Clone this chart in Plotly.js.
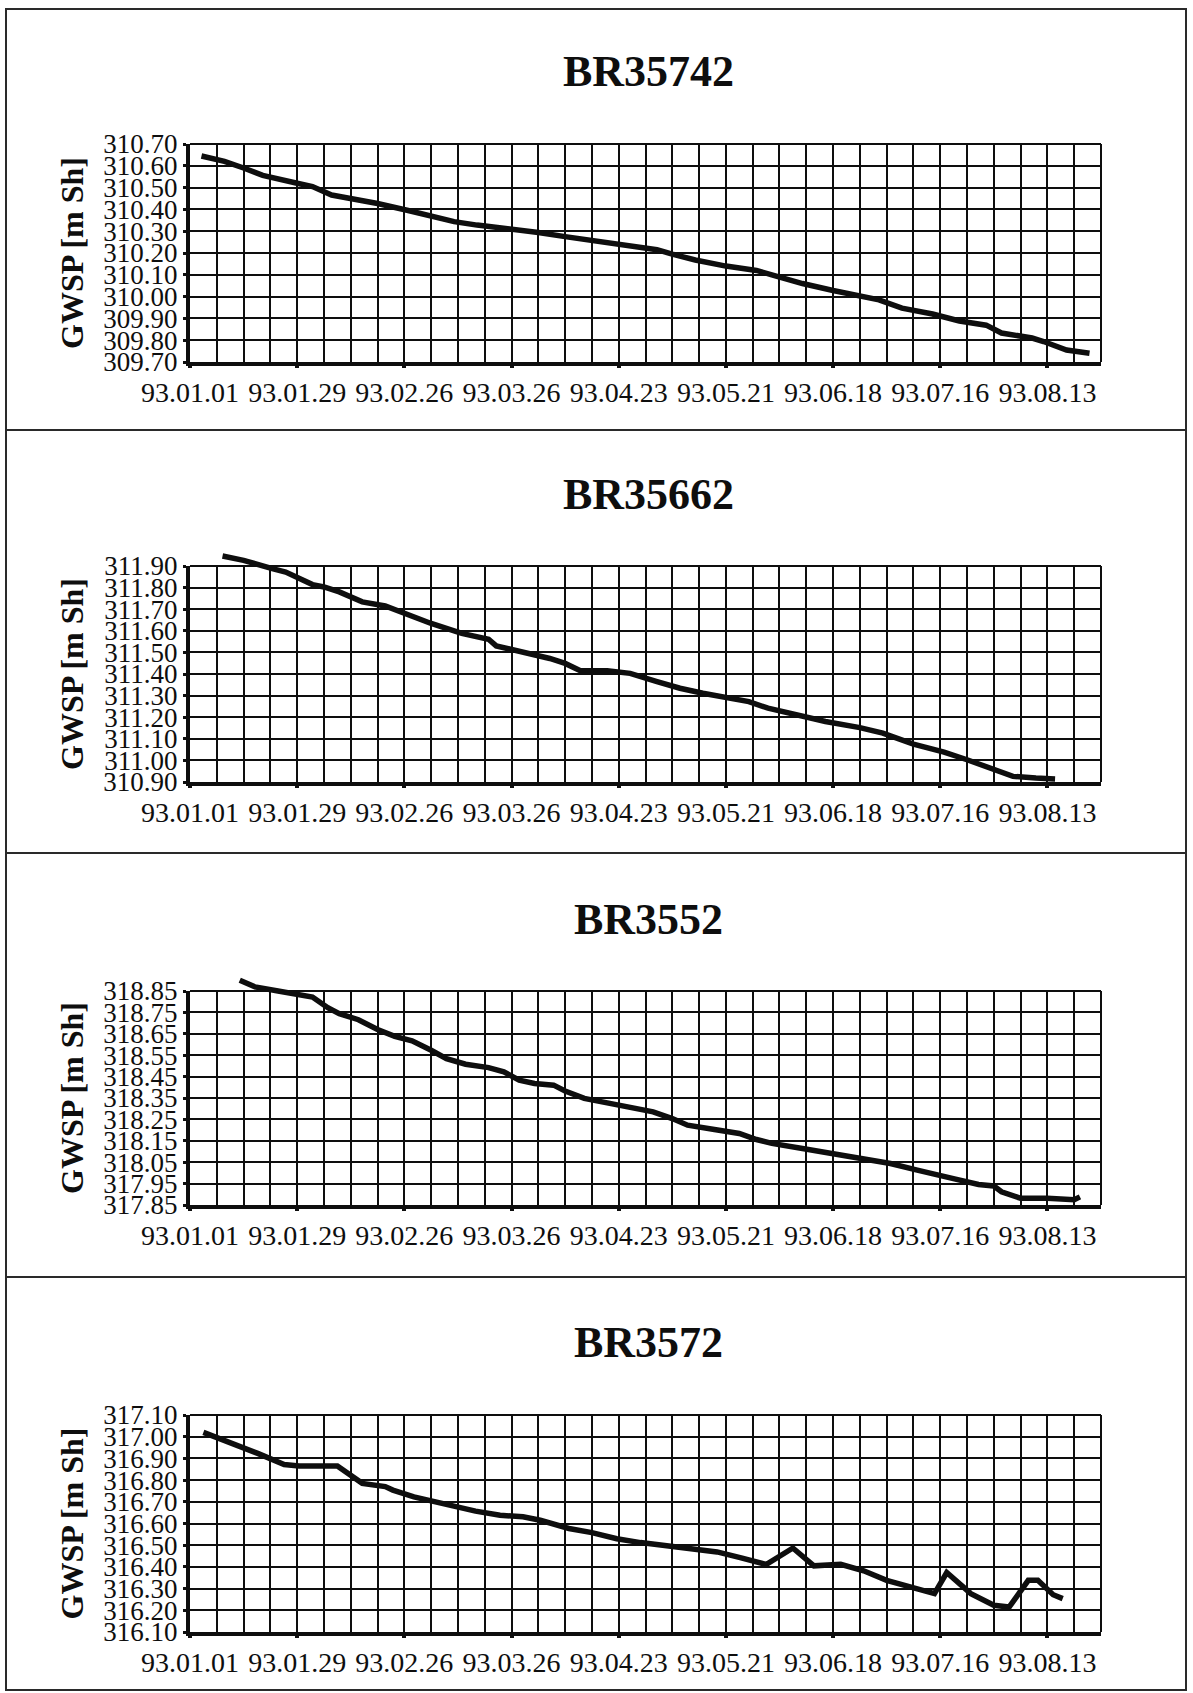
<!DOCTYPE html>
<html>
<head>
<meta charset="utf-8">
<script src="https://cdn.plot.ly/plotly-3.0.1.min.js"></script>
<style>
  html, body { margin: 0; padding: 0; background: #fff; }
  #chart { width: 1193px; height: 1693px; }
</style>
</head>
<body>
<div id="chart"></div>
<script>
// Groundwater level (GWSP, m above sea level) at four wells, Jan–Aug 1993.
// x values are days counted from 93.01.01.

const tickDays = [0, 28, 56, 84, 112, 140, 168, 196, 224];
const tickLabels = ['93.01.01', '93.01.29', '93.02.26', '93.03.26', '93.04.23',
                    '93.05.21', '93.06.18', '93.07.16', '93.08.13'];

const wellNames = ['BR35742', 'BR35662', 'BR3552', 'BR3572'];
const yRanges = [[309.70, 310.70], [310.90, 311.90], [317.85, 318.85], [316.10, 317.10]];

const br35742Days  = [3, 9, 14, 19, 28, 32, 37, 42, 49, 57, 63, 69, 75, 85, 91, 98, 106, 112, 122, 126,
                      132, 140, 148, 152, 160, 168, 174, 180, 186, 194, 201, 208, 212, 220, 223, 229, 235];
const br35742Level = [310.645, 310.62, 310.59, 310.556, 310.52, 310.505, 310.466, 310.45, 310.427, 310.395,
                      310.37, 310.344, 310.328, 310.31, 310.294, 310.275, 310.255, 310.245, 310.215, 310.195,
                      310.168, 310.14, 310.12, 310.10, 310.06, 310.028, 310.005, 309.985, 309.947, 309.92,
                      309.888, 309.869, 309.833, 309.81, 309.794, 309.755, 309.74];

const br35662Days  = [8.5, 14, 21.5, 25, 32, 35, 39, 45, 51, 57, 63, 71, 78, 80, 86, 94, 98, 102, 109, 115,
                      122, 128, 134, 141, 146, 151, 158, 166, 175, 181, 189, 197, 203, 209, 215, 221, 226];
const br35662Level = [311.946, 311.926, 311.888, 311.872, 311.814, 311.803, 311.78, 311.734, 311.715, 311.672,
                      311.634, 311.588, 311.561, 311.53, 311.506, 311.472, 311.449, 311.415, 311.415, 311.403,
                      311.365, 311.334, 311.311, 311.29, 311.272, 311.242, 311.211, 311.18, 311.152, 311.126,
                      311.075, 311.038, 311.003, 310.962, 310.926, 310.918, 310.914];

const br3552Days  = [13, 17, 23, 29, 32, 36, 39, 44, 49, 53.5, 58, 63, 67, 72, 78, 82, 86, 90, 95, 98,
                     103, 109, 115, 121, 126, 130, 137, 143.5, 148, 152, 160, 167, 175, 183, 190, 195, 200,
                     206, 210, 212, 217, 224, 229, 231, 232.5];
const br3552Level = [318.90, 318.869, 318.85, 318.834, 318.822, 318.772, 318.744, 318.716, 318.67, 318.638,
                     318.617, 318.573, 318.534, 318.508, 318.492, 318.472, 318.433, 318.418, 318.41, 318.383,
                     318.348, 318.327, 318.306, 318.285, 318.254, 318.223, 318.203, 318.184, 318.156, 318.138,
                     318.114, 318.091, 318.068, 318.044, 318.013, 317.995, 317.971, 317.946, 317.939, 317.912,
                     317.881, 317.881, 317.881, 317.875, 317.888];

const br3572Days  = [3.5, 10, 17.7, 24.6, 28.5, 38.5, 41.5, 45, 51, 53, 58.5, 64, 70, 74.6, 81, 87, 91.5,
                     99, 105, 111.5, 117.7, 125, 131.5, 137.7, 144, 150.5, 157.5, 163, 170, 176, 182, 187, 194.5,
                     197.7, 204, 210, 214, 219, 221.5, 225.5, 228];
const br3572Level = [317.02, 316.977, 316.923, 316.872, 316.865, 316.865, 316.83, 316.785, 316.77, 316.754,
                     316.723, 316.70, 316.677, 316.657, 316.638, 316.631, 316.615, 316.577, 316.558, 316.53,
                     316.512, 316.497, 316.485, 316.469, 316.442, 316.411, 316.487, 316.405, 316.412, 316.382,
                     316.338, 316.315, 316.277, 316.374, 316.277, 316.223, 316.215, 316.338, 316.338, 316.272,
                     316.254];

const seriesDays  = [br35742Days, br35662Days, br3552Days, br3572Days];
const seriesLevel = [br35742Level, br35662Level, br3552Level, br3572Level];

// ---- page geometry (pixels) ----
const W = 1193, H = 1693;
const plotLeft = 190, plotRight = 1101;
const plotTops = [144, 566, 991, 1415];
const plotBottoms = [362, 782, 1205, 1632];
const titleY = [72, 495, 919, 1342];
const panelLines = [9, 430, 853, 1277, 1690];
const frameLeft = 6, frameRight = 1186;
const headroom = 40;   // the curves may run a little above the top gridline
const xRange = [0, 238];

const ink = '#0e0e0e';
const serif = '"Liberation Serif", "Times New Roman", serif';
const px = v => v / W;
const py = v => 1 - v / H;

const traces = [];
const layout = {
  width: W, height: H,
  margin: {l: 0, r: 0, t: 0, b: 0},
  paper_bgcolor: '#ffffff',
  plot_bgcolor: 'rgba(0,0,0,0)',
  showlegend: false,
  font: {family: serif, color: ink},
  annotations: [],
  shapes: []
};

for (let i = 0; i < 4; i++) {
  const n = i === 0 ? '' : String(i + 1);
  const d = String(i + 5);            // hidden axes that carry the curve
  const lo = yRanges[i][0], hi = yRanges[i][1];
  const hPx = plotBottoms[i] - plotTops[i];

  // visible grid axes
  layout['xaxis' + n] = {
    domain: [px(plotLeft), px(plotRight)],
    anchor: 'y' + n,
    range: xRange,
    tickmode: 'array',
    tickvals: tickDays,
    ticktext: tickLabels,
    ticks: 'outside', ticklen: 2, tickwidth: 4, tickcolor: ink,
    tickfont: {family: serif, size: 28, color: ink},
    showgrid: true, gridcolor: ink, gridwidth: 2,
    minor: {dtick: 7, tick0: 0, showgrid: true, gridcolor: ink, gridwidth: 2, ticks: ''},
    showline: true, linecolor: ink, linewidth: 4,
    zeroline: false,
    fixedrange: true
  };

  layout['yaxis' + n] = {
    domain: [py(plotBottoms[i]), py(plotTops[i])],
    anchor: 'x' + n,
    range: yRanges[i],
    dtick: 0.1, tick0: lo,
    tickformat: '.2f',
    ticks: 'outside', ticklen: 3, tickwidth: 3, tickcolor: ink,
    tickfont: {family: serif, size: 27, color: ink},
    showgrid: true, gridcolor: ink, gridwidth: 2,
    showline: true, linecolor: ink, linewidth: 4,
    zeroline: false,
    title: {text: '<b>GWSP [m Sh]</b>', font: {family: serif, size: 32, color: ink}, standoff: 11},
    fixedrange: true
  };

  // same scale, taller domain: lets the curve rise above the grid without clipping
  layout['xaxis' + d] = {
    domain: [px(plotLeft), px(plotRight)],
    anchor: 'y' + d, range: xRange, visible: false, fixedrange: true
  };
  layout['yaxis' + d] = {
    domain: [py(plotBottoms[i]), py(plotTops[i] - headroom)],
    anchor: 'x' + d,
    range: [lo, hi + headroom / hPx * (hi - lo)],
    visible: false, fixedrange: true
  };

  // empty trace that registers the grid subplot
  traces.push({
    type: 'scatter', mode: 'lines', x: [], y: [],
    xaxis: 'x' + n, yaxis: 'y' + n, hoverinfo: 'skip'
  });

  traces.push({
    type: 'scatter', mode: 'lines',
    x: seriesDays[i], y: seriesLevel[i],
    xaxis: 'x' + d, yaxis: 'y' + d,
    line: {color: ink, width: 5.5},
    hoverinfo: 'x+y'
  });

  // right-hand and top closing lines of the grid
  layout.shapes.push({
    type: 'line', xref: 'x' + n + ' domain', yref: 'y' + n + ' domain',
    x0: 1, x1: 1, y0: 0, y1: 1, line: {color: ink, width: 2}
  });
  layout.shapes.push({
    type: 'line', xref: 'x' + n + ' domain', yref: 'y' + n + ' domain',
    x0: 0, x1: 1, y0: 1, y1: 1, line: {color: ink, width: 2}
  });

  layout.annotations.push({
    text: '<b>' + wellNames[i] + '</b>',
    xref: 'paper', yref: 'paper',
    x: px((plotLeft + plotRight) / 2 + 3), y: py(titleY[i]),
    xanchor: 'center', yanchor: 'middle',
    showarrow: false,
    font: {family: serif, size: 44, color: ink}
  });
}

// outer frame and panel separators
layout.shapes.push({
  type: 'rect', xref: 'paper', yref: 'paper',
  x0: px(frameLeft), x1: px(frameRight), y0: py(panelLines[4]), y1: py(panelLines[0]),
  line: {color: '#2a2a2a', width: 2}, fillcolor: 'rgba(0,0,0,0)', layer: 'below'
});
for (let k = 1; k < 4; k++) {
  layout.shapes.push({
    type: 'line', xref: 'paper', yref: 'paper',
    x0: px(frameLeft), x1: px(frameRight), y0: py(panelLines[k]), y1: py(panelLines[k]),
    line: {color: '#2a2a2a', width: 2}, layer: 'below'
  });
}

Plotly.newPlot('chart', traces, layout, {staticPlot: true, displayModeBar: false});
</script>
</body>
</html>
